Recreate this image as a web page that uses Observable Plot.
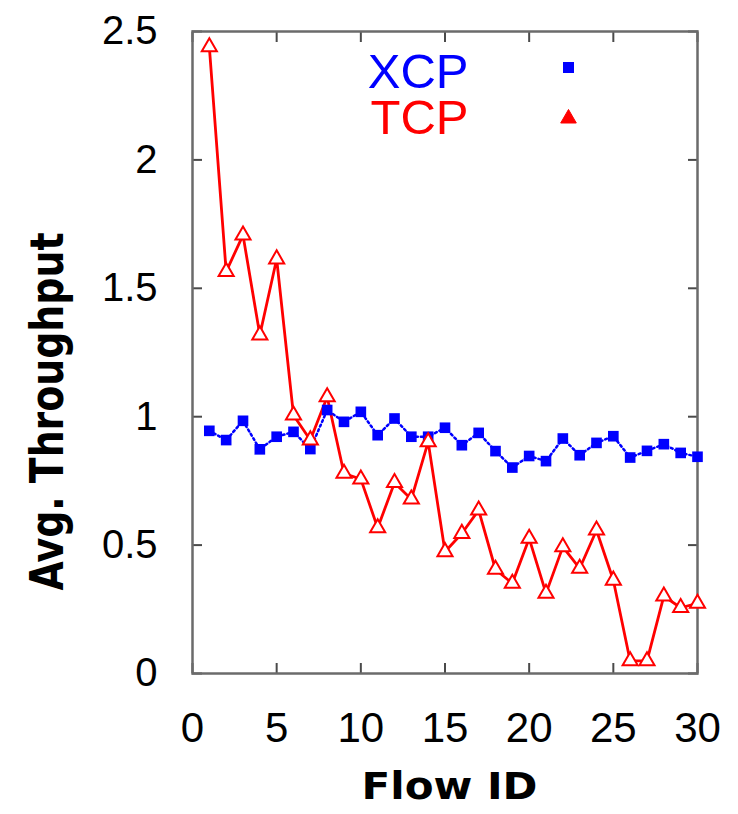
<!DOCTYPE html>
<html>
<head>
<meta charset="utf-8">
<script src="https://cdn.jsdelivr.net/npm/d3@7"></script>
<script src="https://cdn.jsdelivr.net/npm/@observablehq/plot@0.6"></script>
<style>
  html, body { margin: 0; padding: 0; background: #fff; }
</style>
</head>
<body>
<div id="chart"></div>
<script>
const flowIds = [1,2,3,4,5,6,7,8,9,10,11,12,13,14,15,16,17,18,19,20,21,22,23,24,25,26,27,28,29,30];
const xcpThroughput = [0.945,0.909,0.984,0.873,0.922,0.941,0.874,1.026,0.980,1.019,0.928,0.993,0.922,0.922,0.957,0.889,0.937,0.866,0.802,0.847,0.827,0.915,0.850,0.898,0.924,0.841,0.867,0.893,0.859,0.844];
const tcpThroughput = [2.44,1.565,1.707,1.318,1.614,1.006,0.909,1.077,0.779,0.757,0.567,0.743,0.679,0.902,0.474,0.545,0.636,0.405,0.351,0.526,0.312,0.493,0.409,0.558,0.363,0.049,0.049,0.301,0.256,0.273];
const seriesNames = ["XCP", "TCP"];
const xTicks = [0,5,10,15,20,25,30];
const yTicks = [0,0.5,1,1.5,2,2.5];
const xLabel = "Flow ID";
const yLabel = "Avg. Throughput";

const xcp = flowIds.map((id, i) => ({id, v: xcpThroughput[i]}));
const tcp = flowIds.map((id, i) => ({id, v: tcpThroughput[i]}));

const blue = "#0000ff", red = "#ff0000";
const tickColor = "#4a4a4a";
const comic = "'Comic Sans MS','DejaVu Sans',sans-serif";
const fmt = d => String(d);

const chart = Plot.plot({
  width: 738,
  height: 814,
  marginLeft: 192,
  marginRight: 41,
  marginTop: 31,
  marginBottom: 141,
  style: {fontFamily: "'Liberation Sans', Arial, Helvetica, sans-serif", background: "#fff", color: "#000"},
  x: {domain: [0, 30], label: null},
  y: {domain: [0, 2.5], label: null},
  marks: [
    // tick labels
    Plot.axisX(xTicks, {anchor: "bottom", tickSize: 0, tickPadding: 39, fontSize: 42, tickFormat: fmt, label: null}),
    Plot.axisY(yTicks, {anchor: "left", tickSize: 0, tickPadding: 35, fontSize: 40, tickFormat: fmt, label: null}),
    // inward ticks on all four sides
    Plot.axisX(xTicks, {anchor: "bottom", tickSize: 10, dy: -10, stroke: tickColor, strokeWidth: 2, tickFormat: () => "", label: null}),
    Plot.axisX(xTicks, {anchor: "top", tickSize: 10, dy: 10, stroke: tickColor, strokeWidth: 2, tickFormat: () => "", label: null}),
    Plot.axisY(yTicks, {anchor: "left", tickSize: 10, dx: 10, stroke: tickColor, strokeWidth: 2, tickFormat: () => "", label: null}),
    Plot.axisY(yTicks, {anchor: "right", tickSize: 10, dx: -10, stroke: tickColor, strokeWidth: 2, tickFormat: () => "", label: null}),
    Plot.frame({stroke: "#6b6b6b", strokeWidth: 2.5}),
    // series
    Plot.line(xcp, {x: "id", y: "v", stroke: blue, strokeWidth: 2.5, strokeDasharray: "2,3"}),
    Plot.line(tcp, {x: "id", y: "v", stroke: red, strokeWidth: 2.8}),
    Plot.dot(xcp, {x: "id", y: "v", symbol: "square", r: 6, fill: blue, stroke: "none"}),
    Plot.dot(tcp, {x: "id", y: "v", symbol: "triangle", r: 5.6, fill: "white", stroke: red, strokeWidth: 2}),
    // legend
    Plot.text([seriesNames[0]], {frameAnchor: "top-left", dx: 276, dy: 56, text: d => d, textAnchor: "end", lineAnchor: "bottom", fontSize: 49, fill: blue}),
    Plot.text([seriesNames[1]], {frameAnchor: "top-left", dx: 276, dy: 102, text: d => d, textAnchor: "end", lineAnchor: "bottom", fontSize: 49, fill: red}),
    Plot.dot([seriesNames[0]], {frameAnchor: "top-left", dx: 376, dy: 36, symbol: "square", r: 6.2, fill: blue, stroke: "none"}),
    Plot.dot([seriesNames[1]], {frameAnchor: "top-left", dx: 376, dy: 87, symbol: "triangle", r: 5.8, fill: red, stroke: red, strokeWidth: 1}),
    // axis titles
    Plot.text([xLabel], {frameAnchor: "top-left", dx: 257, dy: 767, text: d => d, textAnchor: "middle", lineAnchor: "bottom", fontSize: 37, fontWeight: "bold", fontFamily: comic, fill: "#000"}),
    Plot.text([yLabel], {frameAnchor: "top-left", dx: -130, dy: 380, text: d => d, rotate: -90, textAnchor: "middle", lineAnchor: "bottom", fontSize: 46, fontWeight: "bold", fontFamily: comic, fill: "#000"})
  ]
});

// stretch the two hand-lettered axis titles to the reference's extents
d3.select(chart).selectAll("text")
  .filter(function() { return this.textContent === xLabel; })
  .attr("textLength", 176).attr("lengthAdjust", "spacingAndGlyphs");
d3.select(chart).selectAll("text")
  .filter(function() { return this.textContent === yLabel; })
  .attr("textLength", 358).attr("lengthAdjust", "spacingAndGlyphs");

document.getElementById("chart").appendChild(chart);
</script>
</body>
</html>
